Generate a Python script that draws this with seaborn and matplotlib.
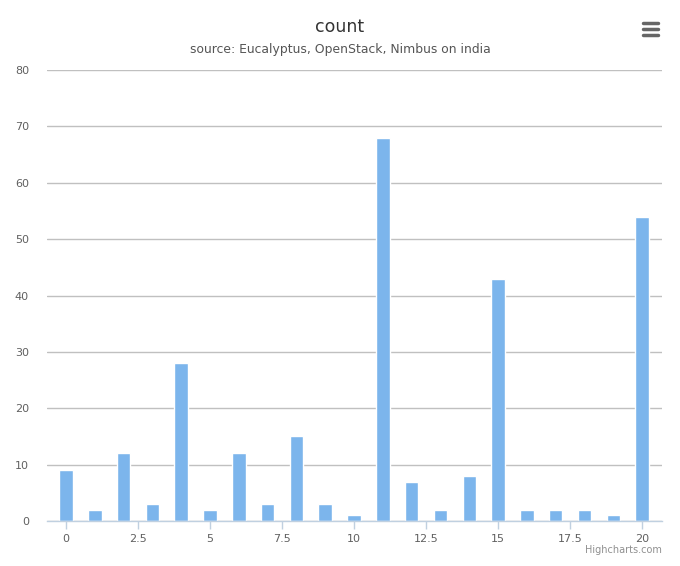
import matplotlib.pyplot as plt
import seaborn as sns
from matplotlib.lines import Line2D

# Data
positions = list(range(21))
counts = [9, 2, 12, 3, 28, 2, 12, 3, 15, 3, 1, 68, 7, 2, 8, 43, 2, 2, 2, 1, 54]
x_ticks = [0, 2.5, 5, 7.5, 10, 12.5, 15, 17.5, 20]
x_tick_labels = ['0', '2.5', '5', '7.5', '10', '12.5', '15', '17.5', '20']
y_ticks = [0, 10, 20, 30, 40, 50, 60, 70, 80]

sns.set_style('white')
plt.rcParams['font.family'] = ['DejaVu Sans']

fig = plt.figure(figsize=(6.8, 5.66), dpi=100)
ax = fig.add_axes([47 / 680, 45 / 566, 615 / 680, 451 / 566])

sns.barplot(x=positions, y=counts, native_scale=True, width=0.47,
            color='#7cb5ec', saturation=1, ax=ax, zorder=3)

ax.set_xlim(-0.66, 20.69)
ax.set_ylim(0, 80)
ax.set_xticks(x_ticks)
ax.set_xticklabels(x_tick_labels)
ax.set_yticks(y_ticks)

# gridlines and axis styling
ax.grid(axis='y', color='#c0c0c0', linewidth=1, zorder=0)
ax.grid(axis='x', visible=False)
for side in ['top', 'right', 'left']:
    ax.spines[side].set_visible(False)
ax.spines['bottom'].set_color('#c0d0e0')
ax.spines['bottom'].set_linewidth(1)
ax.spines['bottom'].set_zorder(4)
ax.tick_params(axis='x', colors='#c0d0e0', length=6, width=1, labelcolor='#606060',
               labelsize=8, pad=3, bottom=True)
ax.tick_params(axis='y', length=0, labelcolor='#606060', labelsize=8, pad=13)
ax.set_xlabel('')
ax.set_ylabel('')

# title and subtitle
fig.text(0.5, 1 - 27 / 566, 'count', ha='center', va='center',
         fontsize=12.5, color='#333333')
fig.text(0.5, 1 - 50 / 566, 'source: Eucalyptus, OpenStack, Nimbus on india',
         ha='center', va='center', fontsize=8.9, color='#555555')

# credits
fig.text(662 / 680, 1 - 550 / 566, 'Highcharts.com', ha='right', va='center',
         fontsize=7, color='#909090')

# menu icon (three bars)
for yy in [23, 29, 35]:
    fig.add_artist(Line2D([643 / 680, 658 / 680], [1 - yy / 566, 1 - yy / 566],
                          color='#666666', linewidth=2.5, solid_capstyle='round'))

fig.savefig('out.png', dpi=100)
